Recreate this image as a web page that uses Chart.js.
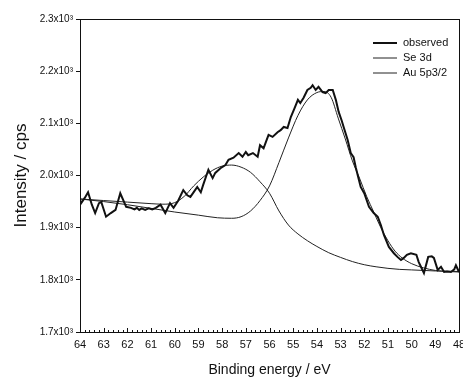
<!DOCTYPE html>
<html>
<head>
<meta charset="utf-8">
<script src="https://cdn.jsdelivr.net/npm/chart.js@4/dist/chart.umd.min.js"></script>
<style>
    html, body { margin: 0; padding: 0; background: #fff; overflow: hidden; }
    canvas { display: block; }
</style>
</head>
<body>
<canvas id="xpsChart" width="463" height="382"></canvas>
<script>
const obsEnergy = [64.0, 63.95, 63.8, 63.66, 63.5, 63.36, 63.2, 63.1, 62.9, 62.7, 62.5, 62.3, 62.05, 61.85, 61.7, 61.6, 61.5, 61.4, 61.25, 61.1, 60.95, 60.8, 60.6, 60.4, 60.2, 60.05, 59.85, 59.64, 59.47, 59.34, 59.2, 59.05, 58.9, 58.8, 58.58, 58.4, 58.29, 58.07, 57.86, 57.73, 57.52, 57.3, 57.14, 57.0, 56.9, 56.7, 56.5, 56.4, 56.25, 56.17, 56.04, 55.87, 55.66, 55.53, 55.4, 55.24, 55.1, 54.95, 54.8, 54.7, 54.56, 54.4, 54.26, 54.18, 54.05, 53.93, 53.76, 53.63, 53.5, 53.33, 53.2, 53.08, 52.95, 52.87, 52.7, 52.57, 52.45, 52.36, 52.15, 52.0, 51.8, 51.6, 51.43, 51.3, 51.17, 50.96, 50.75, 50.6, 50.45, 50.33, 50.2, 50.03, 49.8, 49.7, 49.48, 49.3, 49.15, 49.06, 48.9, 48.76, 48.63, 48.5, 48.34, 48.2, 48.13, 48.0];
const obsCounts = [1953, 1947, 1957, 1968, 1944, 1928, 1947, 1949, 1921, 1928, 1934, 1966, 1940, 1938, 1935, 1938, 1934, 1937, 1934, 1937, 1935, 1938, 1944, 1928, 1947, 1938, 1952, 1972, 1962, 1959, 1968, 1978, 1968, 1982, 2011, 1995, 2005, 2014, 2020, 2030, 2034, 2043, 2036, 2045, 2039, 2043, 2036, 2058, 2052, 2062, 2078, 2074, 2083, 2087, 2093, 2091, 2112, 2128, 2145, 2139, 2149, 2164, 2168, 2173, 2164, 2170, 2160, 2158, 2164, 2164, 2145, 2122, 2105, 2093, 2068, 2043, 2035, 2016, 1978, 1966, 1940, 1928, 1921, 1905, 1886, 1863, 1851, 1844, 1838, 1842, 1848, 1851, 1848, 1834, 1813, 1844, 1845, 1842, 1819, 1825, 1815, 1816, 1815, 1820, 1828, 1815];

const seEnergy = [64, 63, 62, 61, 60, 59, 58.2, 57.6, 57.2, 56.8, 56.4, 56.0, 55.6, 55.2, 54.8, 54.4, 54.0, 53.7, 53.4, 53.1, 52.8, 52.5, 52.2, 51.9, 51.6, 51.3, 51.0, 50.7, 50.4, 50.0, 49.5, 49.0, 48.5, 48.0];
const seCounts = [1955, 1950, 1944, 1937, 1930, 1924, 1919, 1918, 1921, 1932, 1952, 1980, 2025, 2072, 2115, 2145, 2159, 2161, 2150, 2110, 2070, 2028, 1995, 1960, 1930, 1900, 1875, 1855, 1842, 1831, 1823, 1818, 1816, 1815];

const auEnergy = [64, 63, 62, 61, 60.5, 60.0, 59.6, 59.2, 58.8, 58.4, 58.0, 57.6, 57.2, 56.8, 56.4, 56.0, 55.6, 55.2, 54.8, 54.4, 54.0, 53.5, 53.0, 52.5, 52.0, 51.5, 51.0, 50.5, 50.0, 49.0, 48.0];
const auCounts = [1955, 1952, 1949, 1946, 1945, 1948, 1960, 1980, 1997, 2010, 2018, 2020, 2016, 2006, 1988, 1966, 1932, 1905, 1888, 1875, 1864, 1852, 1843, 1835, 1829, 1825, 1822, 1820, 1819, 1817, 1816];

const seriesLabels = ["observed", "Se 3d", "Au 5p3/2"];
const energyMin = 48, energyMax = 64;
const countsMin = 1700, countsMax = 2300, countsStep = 100;

function toPoints(xs, ys) {
    return xs.map((x, i) => ({x: x, y: ys[i]}));
}

const decorPlugin = {
    id: 'decor',
    afterDraw(chart) {
        const ctx = chart.ctx;
        const area = chart.chartArea;
        const xs = chart.scales.x;
        ctx.save();
        ctx.strokeStyle = '#111';
        ctx.lineWidth = 1;
        ctx.strokeRect(area.left + 0.5, area.top + 0.5, area.right - area.left, area.bottom - area.top);

        // little ticks on the inside of the bottom axis
        ctx.beginPath();
        for (let i = 0; i <= (energyMax - energyMin) * 5; i++) {
            const v = energyMin + i / 5;
            const px = Math.round(xs.getPixelForValue(v)) + 0.5;
            const len = (i % 5 === 0) ? 4 : 2;
            ctx.moveTo(px, area.bottom);
            ctx.lineTo(px, area.bottom - len);
        }
        ctx.stroke();

        // legend
        ctx.font = '11px "Liberation Sans", Arial, sans-serif';
        ctx.textBaseline = 'middle';
        ctx.fillStyle = '#111';
        chart.data.datasets.forEach((ds, i) => {
            const y = 43 + i * 15;
            ctx.beginPath();
            ctx.lineWidth = ds.borderWidth;
            ctx.strokeStyle = ds.borderColor;
            ctx.moveTo(373, y);
            ctx.lineTo(397, y);
            ctx.stroke();
            ctx.fillText(ds.label, 403, y);
        });
        ctx.restore();
    }
};

const chartElement = document.getElementById('xpsChart').getContext('2d');
const xpsChart = new Chart(chartElement, {
    type: 'line',
    data: {
        datasets: [
            {
                label: seriesLabels[0],
                data: toPoints(obsEnergy, obsCounts),
                borderColor: '#111',
                borderWidth: 2,
                pointRadius: 0,
                tension: 0,
            },
            {
                label: seriesLabels[1],
                data: toPoints(seEnergy, seCounts),
                borderColor: '#222',
                borderWidth: 1,
                pointRadius: 0,
                cubicInterpolationMode: 'monotone',
            },
            {
                label: seriesLabels[2],
                data: toPoints(auEnergy, auCounts),
                borderColor: '#222',
                borderWidth: 1,
                pointRadius: 0,
                cubicInterpolationMode: 'monotone',
            }
        ]
    },
    options: {
        responsive: false,
        animation: false,
        devicePixelRatio: 1,
        layout: {
            padding: {left: 0, top: 19, right: 4, bottom: 0}
        },
        scales: {
            x: {
                type: 'linear',
                reverse: true,
                min: energyMin,
                max: energyMax,
                ticks: {
                    stepSize: 1,
                    padding: 6,
                    color: '#111',
                    font: {family: '"Liberation Sans", Arial, sans-serif', size: 11}
                },
                grid: {drawOnChartArea: false, drawTicks: false},
                border: {color: '#111', width: 1},
                title: {
                    display: true,
                    text: 'Binding energy / eV',
                    color: '#111',
                    font: {family: '"Liberation Sans", Arial, sans-serif', size: 14},
                    padding: {top: 0, bottom: 3}
                },
                afterFit(scale) {
                    scale.height = 50;
                    scale.paddingLeft = 0;
                    scale.paddingRight = 0;
                }
            },
            y: {
                min: countsMin,
                max: countsMax,
                ticks: {
                    stepSize: countsStep,
                    padding: 3,
                    color: '#111',
                    font: {family: '"Liberation Sans", Arial, sans-serif', size: 10},
                    callback: (v) => (v / 1000).toFixed(1) + 'x10³'
                },
                grid: {drawOnChartArea: false, tickLength: 4, color: '#111'},
                border: {color: '#111', width: 1},
                title: {
                    display: true,
                    text: 'Intensity / cps',
                    color: '#111',
                    font: {family: '"Liberation Sans", Arial, sans-serif', size: 17},
                    padding: {top: 11, bottom: 0}
                },
                afterFit(scale) {
                    scale.width = 80;
                }
            }
        },
        plugins: {
            legend: {display: false},
            tooltip: {enabled: false}
        }
    },
    plugins: [decorPlugin]
});
</script>
</body>
</html>
